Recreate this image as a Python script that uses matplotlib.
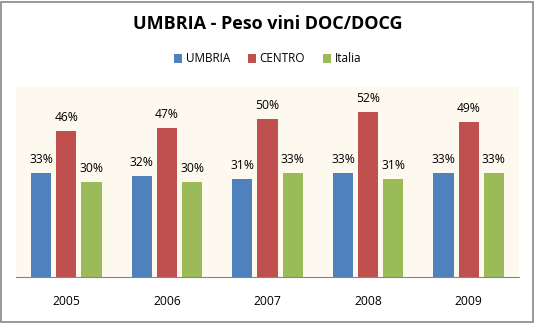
import numpy as np
import matplotlib.pyplot as plt
from matplotlib.patches import Rectangle

years = ['2005', '2006', '2007', '2008', '2009']
umbria = [33, 32, 31, 33, 33]
centro = [46, 47, 50, 52, 49]
italia = [30, 30, 33, 31, 33]

plt.rcParams['font.family'] = ['Open Sans', 'DejaVu Sans']

fig = plt.figure(figsize=(5.35, 3.23), dpi=100)
ax = fig.add_axes([16/535, 1-277/323, 503/535, 190/323])
ax.set_facecolor('#FEF9EF')

x = np.arange(len(years))
w = 0.2
series = [(umbria, 'UMBRIA', '#4F81BD', -0.25),
          (centro, 'CENTRO', '#C0504D', 0),
          (italia, 'Italia', '#9BBB59', 0.25)]
for vals, name, col, off in series:
    bars = ax.bar(x + off, vals, w, color=col, label=name)
    for b, v in zip(bars, vals):
        ax.text(b.get_x() + b.get_width()/2, v + 2.2, '%d%%' % v,
                ha='center', va='bottom', fontsize=8.7)

ax.set_xlim(-0.5, 4.5)
ax.set_ylim(0, 60)
ax.set_yticks([])
ax.set_xticks(x)
ax.set_xticklabels(years, fontsize=8.7)
ax.tick_params(axis='x', length=0, pad=13)
for s in ['top', 'right', 'left']:
    ax.spines[s].set_visible(False)
ax.spines['bottom'].set_color('#868686')

fig.text(0.5, 1-24/323, 'UMBRIA - Peso vini DOC/DOCG', ha='center', va='center',
         fontsize=13, fontweight='bold')
fig.legend(loc='center', bbox_to_anchor=(0.5, 1-59/323), ncol=3, frameon=False,
           fontsize=8.5, handlelength=0.7, handleheight=0.7, handletextpad=0.3,
           columnspacing=1.5)

fig.patches.append(Rectangle((1/535, 1/323), 532/535, 320/323, transform=fig.transFigure,
                             fill=False, edgecolor='#868686', lw=1.2))

plt.savefig('out.png', dpi=100)
